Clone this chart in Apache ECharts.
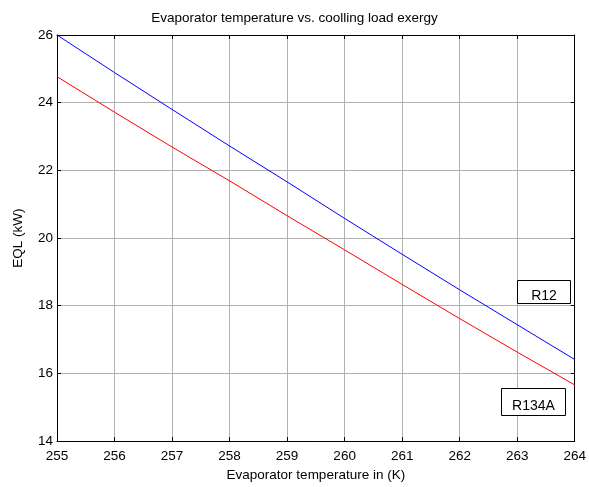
<!DOCTYPE html>
<html>
<head>
<meta charset="utf-8">
<script src="https://cdn.jsdelivr.net/npm/echarts@6/dist/echarts.min.js"></script>
<style>
html,body{margin:0;padding:0;background:#fff;}
#chart{width:589px;height:487px;}
</style>
</head>
<body>
<div id="chart"></div>
<script>
// ---- data ----
var temperatures = [255, 256, 257, 258, 259, 260, 261, 262, 263, 264];
var eqlR12   = [26.0, 24.89, 23.80, 22.72, 21.66, 20.58, 19.52, 18.47, 17.44, 16.41];
var eqlR134A = [24.77, 23.72, 22.69, 21.69, 20.66, 19.65, 18.63, 17.62, 16.63, 15.66];
var seriesNames = ['R12', 'R134A'];
var xTicks = [255, 256, 257, 258, 259, 260, 261, 262, 263, 264];
var yTicks = [14, 16, 18, 20, 22, 24, 26];
var titleText = 'Evaporator temperature vs. coolling load exergy';
var xLabel = 'Evaporator temperature in (K)';
var yLabel = 'EQL (kW)';

// annotation boxes (data coordinates of box corners)
var notes = [
  {text: 'R12',   x0: 263.0,  x1: 263.92, y0: 18.77, y1: 18.08},
  {text: 'R134A', x0: 262.72, x1: 263.84, y0: 15.58, y1: 14.77}
];

function pairs(xs, ys){ return xs.map(function(x,i){ return [x, ys[i]]; }); }

var FONT = 'Liberation Sans, Arial, sans-serif';
var FS = 13.5;
var chart = echarts.init(document.getElementById('chart'), null, {renderer:'canvas'});

var axisCommon = {
  axisLine: {show:true, onZero:false, lineStyle:{color:'#000', width:1}},
  axisTick: {show:true, inside:true, length:4, lineStyle:{color:'#000'}},
  splitLine: {show:false}
};

var option = {
  backgroundColor: '#fff',
  animation: false,
  title: {
    text: titleText, left: 'center', top: 6,
    textStyle: {fontFamily: FONT, fontSize: FS, fontWeight: 'normal', color: '#000'}
  },
  grid: {left: 57, right: 13, top: 35, bottom: 44, containLabel: false},
  xAxis: [
    Object.assign({}, axisCommon, {
      type: 'value', position: 'bottom', min: xTicks[0], max: xTicks[xTicks.length-1], interval: 1,
      name: xLabel, nameLocation: 'middle', nameGap: 19,
      nameTextStyle: {fontFamily: FONT, fontSize: FS, color: '#000'},
      axisLabel: {fontFamily: FONT, fontSize: FS, color: '#000', margin: 8},
      splitLine: {show:true, lineStyle:{color:'#b0b0b0', width:1}}
    }),
    Object.assign({}, axisCommon, {
      type: 'value', position: 'top', min: xTicks[0], max: xTicks[xTicks.length-1], interval: 1,
      axisLabel: {show:false}
    })
  ],
  yAxis: [
    Object.assign({}, axisCommon, {
      type: 'value', position: 'left', min: yTicks[0], max: yTicks[yTicks.length-1], interval: 2,
      name: yLabel, nameLocation: 'middle', nameGap: 32, nameRotate: 90,
      nameTextStyle: {fontFamily: FONT, fontSize: FS, color: '#000'},
      axisLabel: {fontFamily: FONT, fontSize: FS, color: '#000', margin: 4},
      splitLine: {show:true, lineStyle:{color:'#b0b0b0', width:1}}
    }),
    Object.assign({}, axisCommon, {
      type: 'value', position: 'right', min: yTicks[0], max: yTicks[yTicks.length-1], interval: 2,
      axisLabel: {show:false}
    })
  ],
  series: [
    {name: seriesNames[0], type: 'line', xAxisIndex:0, yAxisIndex:0, data: pairs(temperatures, eqlR12),
     showSymbol:false, symbol:'none', lineStyle:{color:'#0000ff', width:1}, z: 5},
    {name: seriesNames[1], type: 'line', xAxisIndex:0, yAxisIndex:0, data: pairs(temperatures, eqlR134A),
     showSymbol:false, symbol:'none', lineStyle:{color:'#ff0000', width:1}, z: 5}
  ]
};
chart.setOption(option);

var g = [];
notes.forEach(function(n){
  var p0 = chart.convertToPixel({xAxisIndex:0, yAxisIndex:0}, [n.x0, n.y0]);
  var p1 = chart.convertToPixel({xAxisIndex:0, yAxisIndex:0}, [n.x1, n.y1]);
  var x = Math.round(p0[0]) + 0.5, y = Math.round(p0[1]) + 0.5;
  var w = Math.round(p1[0] - p0[0]), h = Math.round(p1[1] - p0[1]);
  g.push({type:'rect', shape:{x:x, y:y, width:w, height:h},
          style:{fill:'#fff', stroke:'#000', lineWidth:1}, z: 100});
  g.push({type:'text', x: x + w/2, y: y + h/2 + 4,
          style:{text:n.text, fill:'#000', font:'14px ' + FONT, align:'center', verticalAlign:'middle'}, z: 101});
});
chart.setOption({graphic: g});
</script>
</body>
</html>
